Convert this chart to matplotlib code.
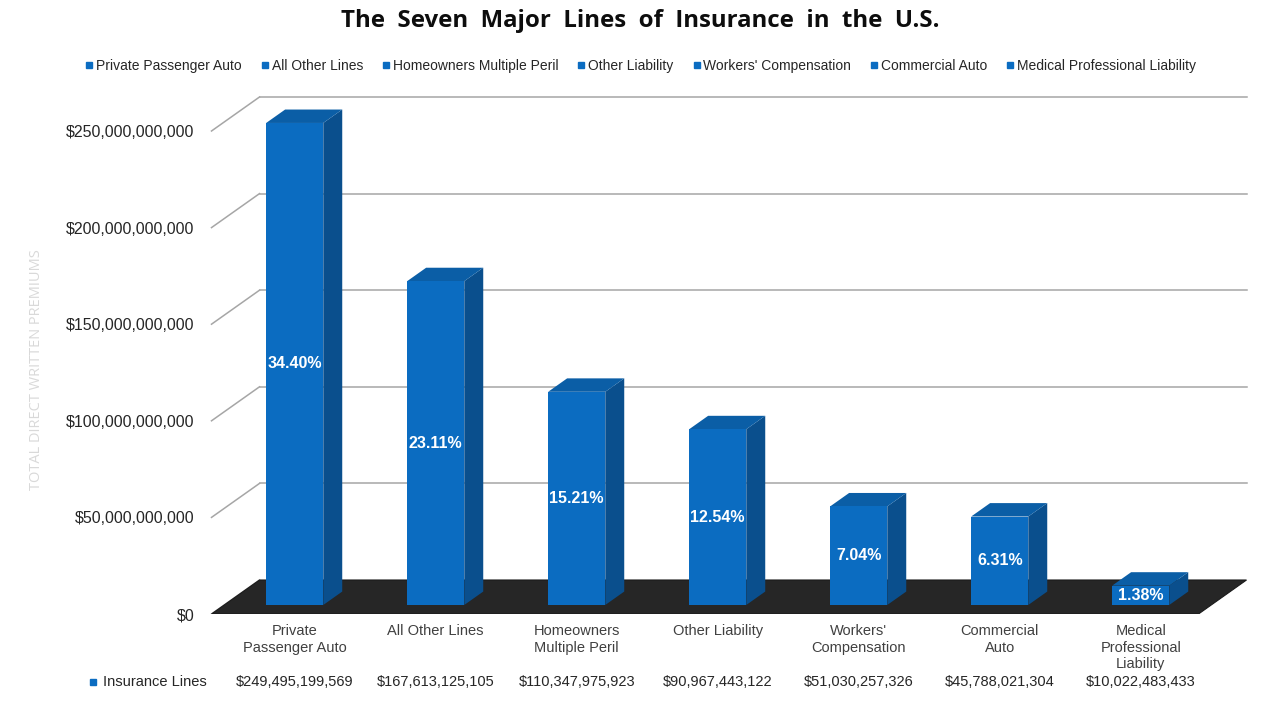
import numpy as np
import matplotlib.pyplot as plt
from matplotlib.patches import Polygon
from matplotlib.lines import Line2D

# data
categories = ["Private Passenger Auto", "All Other Lines", "Homeowners Multiple Peril",
              "Other Liability", "Workers' Compensation", "Commercial Auto",
              "Medical Professional Liability"]
axis_labels = ["Private\nPassenger Auto", "All Other Lines", "Homeowners\nMultiple Peril",
               "Other Liability", "Workers'\nCompensation", "Commercial\nAuto",
               "Medical\nProfessional\nLiability"]
premiums = [249495199569, 167613125105, 110347975923, 90967443122,
            51030257326, 45788021304, 10022483433]
shares = [34.40, 23.11, 15.21, 12.54, 7.04, 6.31, 1.38]
yticks = [0, 50e9, 100e9, 150e9, 200e9, 250e9]

front_c = "#0B6CC1"
side_c = "#0A4F8D"
top_c = "#0B5EA6"
grid_c = "#a6a6a6"
txt_c = "#404040"
sans = ["Liberation Sans", "DejaVu Sans"]

fig = plt.figure(figsize=(12.8, 7.2), dpi=100)
# axes placed so that the front floor edge sits at the bottom
ax = fig.add_axes([210/1280, (720-614)/720, 1040/1280, 524/720])
px_cat = 141.0           # pixels per category
px_val = 96.6 / 50e9     # pixels per dollar
ax.set_xlim(-72/px_cat, 968/px_cat)
ax.set_ylim(0, 524/px_val)

# depth of the 3d box, in data units
DX = 48/px_cat
DY = 34/px_val
f0, f1 = 0.265, 0.66     # bar front / back as fraction of depth
bw = 0.405

n = len(categories)
x = np.arange(n)

# floor
ax.add_patch(Polygon([(-0.5, 0), (n-0.5, 0), (n-0.5+DX, DY), (-0.5+DX, DY)],
                     closed=True, facecolor="#262626", edgecolor="#1a1a1a",
                     lw=0.8, zorder=1))

# back wall + side wall gridlines
for v in yticks:
    if v > 0:
        ax.plot([-0.5+DX, n-0.5+DX], [v+DY, v+DY], color=grid_c, lw=1.1, zorder=0.5)
    ax.plot([-0.5, -0.5+DX], [v, v+DY], color=grid_c, lw=1.1, zorder=0.5)

# bars
xf = x + f0*DX
b0 = f0*DY
ddx = (f1-f0)*DX
ddy = (f1-f0)*DY
ax.bar(xf, premiums, width=bw, bottom=b0, color=front_c, linewidth=0, zorder=3)
for xi, v, s in zip(xf, premiums, shares):
    xl, xr, top = xi - bw/2, xi + bw/2, v + b0
    ax.add_patch(Polygon([(xr, b0), (xr, top), (xr+ddx, top+ddy), (xr+ddx, b0+ddy)],
                         closed=True, facecolor=side_c, edgecolor="none", zorder=2.9))
    ax.add_patch(Polygon([(xl, top), (xr, top), (xr+ddx, top+ddy), (xl+ddx, top+ddy)],
                         closed=True, facecolor=top_c, edgecolor="none", zorder=2.9))
    ax.text(xi, b0 + v/2, "{:.2f}%".format(s), ha="center", va="center",
            color="white", fontsize=11.5, fontweight="bold", family=sans, zorder=4)

# y axis
ax.set_yticks(yticks)
ax.set_yticklabels(["${:,.0f}".format(v) for v in yticks], family=sans,
                   fontsize=11.5, color="#262626")
ax.tick_params(axis="y", length=0, pad=11)

# category labels
ax.set_xticks(xf)
ax.set_xticklabels(axis_labels, family=sans, fontsize=10.5, color=txt_c,
                   linespacing=1.2, va="top")
ax.tick_params(axis="x", length=0, pad=7.5)
for sp in ax.spines.values():
    sp.set_visible(False)

# data table row
ty = (614-682)/524
for xi, v in zip(xf, premiums):
    ax.text(xi, ty, "${:,.0f}".format(v), transform=ax.get_xaxis_transform(),
            ha="center", va="center", fontsize=10.5, color="#262626", family=sans)
ax.text(-72/px_cat - 3/px_cat, ty, "Insurance Lines", transform=ax.get_xaxis_transform(),
        ha="right", va="center", fontsize=10.5, color="#262626", family=sans)
ax.plot([-72/px_cat - 117/px_cat], [ty], marker="s", color=front_c, markersize=4,
        transform=ax.get_xaxis_transform(), clip_on=False)

# y label
fig.text(37/1280, 1-370/720, "TOTAL DIRECT WRITTEN PREMIUMS", rotation=90,
         ha="center", va="center", color="#d9d9d9", fontsize=10.5,
         family=["Open Sans", "DejaVu Sans"])

# title
fig.text(0.5, 1-21/720, "The  Seven  Major  Lines  of  Insurance  in  the  U.S.",
         ha="center", va="center", fontsize=17.3, fontweight="bold",
         family=["Open Sans", "DejaVu Sans"], color="#0d0d0d")

# legend
handles = [Line2D([], [], marker="s", color=front_c, linestyle="none", markersize=4)
           for _ in categories]
fig.legend(handles, categories, loc="center", bbox_to_anchor=(0.5, 1-66/720),
           ncol=n, frameon=False, prop={"family": sans, "size": 10},
           handletextpad=0.1, columnspacing=1.25, handlelength=0.8,
           labelcolor="#262626")

fig.savefig("out.png", dpi=100)
